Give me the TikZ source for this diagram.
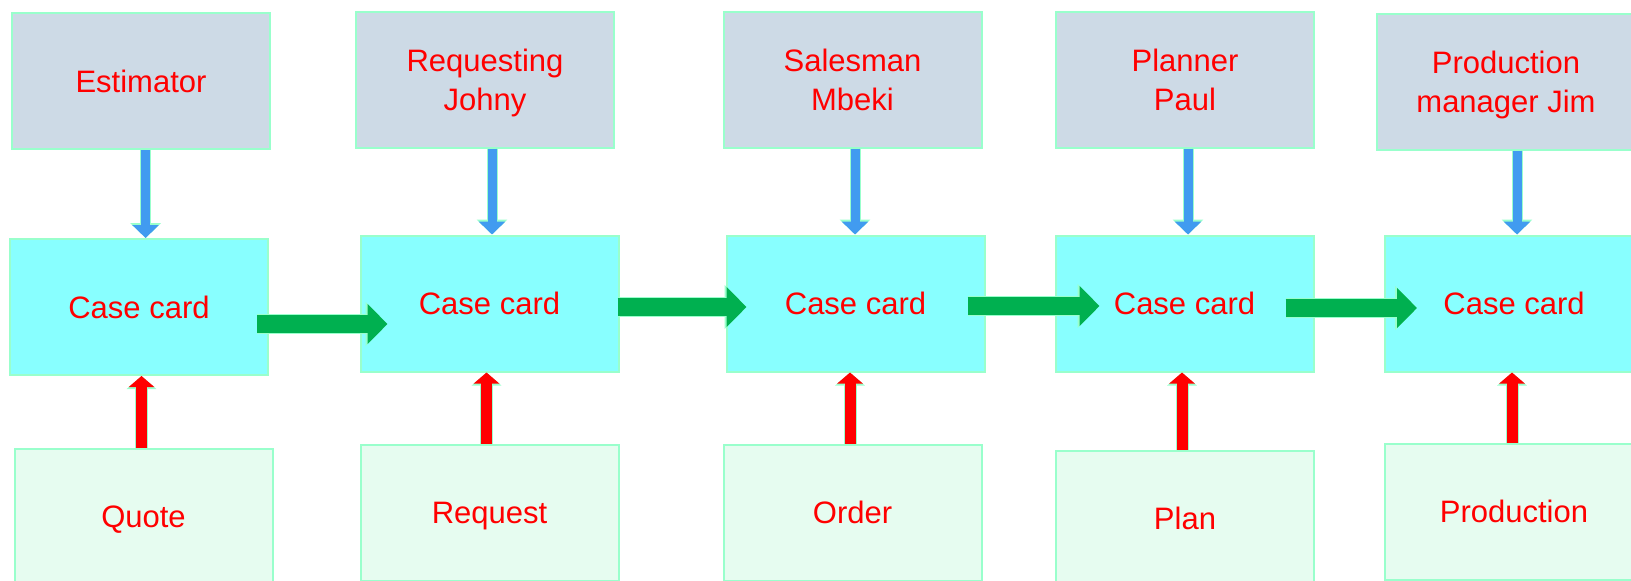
\documentclass[tikz,border=0pt]{standalone}
\usepackage{fontspec}
\setmainfont{Liberation Sans}
\usepackage{xcolor}
\usepackage{tikz}
\usetikzlibrary{arrows.meta}

\definecolor{personfill}{HTML}{CDDAE6}
\definecolor{cardfill}{HTML}{88FFFF}
\definecolor{docfill}{HTML}{E6FCF0}
\definecolor{boxedge}{HTML}{99FFCC}
\definecolor{flowgreen}{HTML}{00B050}
\definecolor{flowblue}{HTML}{419BF0}

\begin{document}
\begin{tikzpicture}[x=0.5pt,y=-0.5pt,
    box/.style={draw=boxedge, line width=1pt, minimum width=129pt, minimum height=68pt,
        inner sep=0pt, align=center, text depth=0pt, text=red, font=\fontsize{15.5}{19.5}\selectfont},
    person/.style={box, fill=personfill},
    card/.style={box, fill=cardfill},
    doc/.style={box, fill=docfill},
    passon/.style={draw=flowgreen, line width=9pt, -{Triangle[width=19.5pt,length=10pt]},
        preaction={draw=boxedge, line width=10pt, -{Triangle[width=21.5pt,length=11pt]}}},
    assigns/.style={draw=flowblue, line width=4.5pt, -{Triangle[width=13pt,length=6.5pt]},
        preaction={draw=boxedge, line width=5.5pt, -{Triangle[width=15pt,length=7.5pt]}}},
    feeds/.style={draw=red, line width=5.5pt, -{Triangle[width=12.5pt,length=5.5pt]},
        preaction={draw=boxedge, line width=6.5pt, -{Triangle[width=14.5pt,length=6.5pt]}}}]
        \useasboundingbox (0,0) rectangle (1631,580);
        % people on top
    \node[person] (who1) at (141,81) {Estimator};
    \node[person] (who2) at (485,79.5) {Requesting\\Johny};
    \node[person] (who3) at (852.5,79.5) {Salesman\\Mbeki};
    \node[person] (who4) at (1185,79.5) {Planner\\Paul};
    \node[person] (who5) at (1506,81.5) {Production\\manager Jim};
        % case cards in the middle
    \node[card] (card1) at (139,307) {Case card};
    \node[card] (card2) at (489.5,303.5) {Case card};
    \node[card] (card3) at (855.5,303.5) {Case card};
    \node[card] (card4) at (1184.5,303.5) {Case card};
    \node[card] (card5) at (1514,303.5) {Case card};
        % documents at the bottom
    \node[doc] (doc1) at (143.5,517) {Quote};
    \node[doc] (doc2) at (489.5,512.5) {Request};
    \node[doc] (doc3) at (852.5,512.5) {Order};
    \node[doc] (doc4) at (1185,518.5) {Plan};
    \node[doc] (doc5) at (1514,511.5) {Production};
        % blue arrows down, red arrows up
    \foreach \i/\bx/\rx in {1/4.6/-2,2/7/-3,3/2.5/-2.5,4/3/-3,5/11/-2}
    {
    \coordinate (b\i) at ([shift={(\bx,0)}]who\i.south);
    \draw[assigns] (b\i) -- (b\i |- card\i.north);
    \coordinate (r\i) at ([shift={(\rx,0)}]doc\i.north);
    \draw[feeds] (r\i) -- (r\i |- card\i.south);
    }
        % green arrows from card to card
    \foreach \i/\j/\dy/\back/\into in {1/2/17/6/14,2/3/3.5/1/10.5,3/4/2.5/9/22.5,4/5/4.5/14.5/16.5}
    {
    \coordinate (g\i) at ([shift={(0,\dy)}]card\i.east);
    \draw[passon, shorten <=-\back pt, shorten >=-\into pt] (g\i) -- (g\i -| card\j.west);
    }
\end{tikzpicture}
\end{document}
